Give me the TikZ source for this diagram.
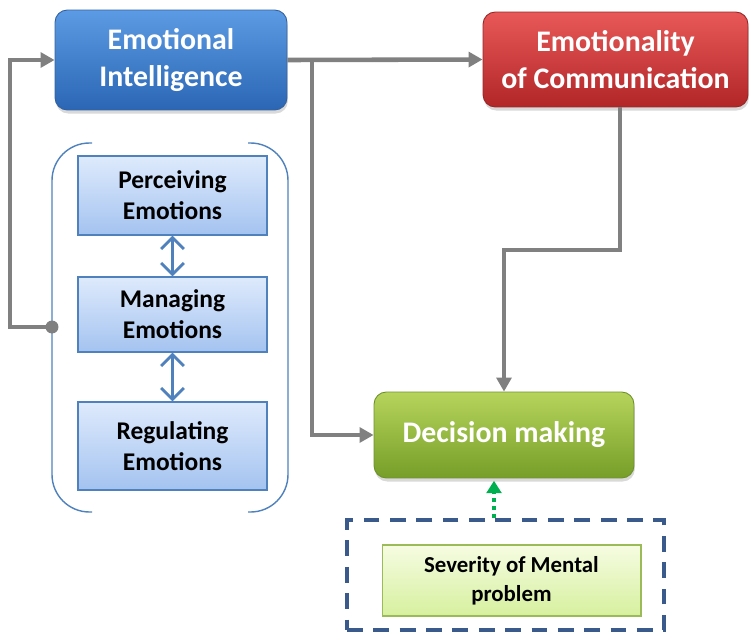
\documentclass[tikz,border=0pt]{standalone}
\usepackage{fontspec}
\setmainfont{Carlito}
\usetikzlibrary{arrows.meta,positioning,calc,shadows}

\definecolor{eiTop}{RGB}{92,155,228}
\definecolor{eiBot}{RGB}{42,102,180}
\definecolor{eiLine}{RGB}{52,98,160}
\definecolor{ecTop}{RGB}{232,88,88}
\definecolor{ecBot}{RGB}{178,38,40}
\definecolor{ecLine}{RGB}{150,40,40}
\definecolor{dmTop}{RGB}{182,212,92}
\definecolor{dmBot}{RGB}{118,158,40}
\definecolor{dmLine}{RGB}{110,145,45}
\definecolor{subTop}{RGB}{222,234,252}
\definecolor{subBot}{RGB}{164,195,240}
\definecolor{subLine}{RGB}{79,129,189}
\definecolor{sevTop}{RGB}{246,252,226}
\definecolor{sevBot}{RGB}{214,240,158}
\definecolor{sevLine}{RGB}{155,187,89}
\definecolor{connGray}{RGB}{128,128,128}
\definecolor{dashBlue}{RGB}{58,90,140}
\definecolor{dotGreen}{RGB}{0,176,80}

\begin{document}
\begin{tikzpicture}[
    x=0.02cm, y=-0.02cm,
    mainbox/.style={rounded corners=7pt, draw, line width=0.5pt, align=center, text=white,
        font=\fontsize{17}{21}\selectfont\bfseries,
        drop shadow={opacity=0.3, shadow xshift=0.5pt, shadow yshift=-2pt}},
    subbox/.style={draw=subLine, line width=0.6pt, top color=subTop, bottom color=subBot,
        minimum width=3.78cm, align=center, font=\fontsize{14.5}{17.8}\selectfont\bfseries},
    conn/.style={draw=connGray, line width=2.6pt, -{Triangle[length=8pt,width=8.5pt]}},
    dbl/.style={draw=subLine, line width=1.7pt,
        {Straight Barb[length=6.5pt,width=13pt,line width=1.7pt]}-{Straight Barb[length=6.5pt,width=13pt,line width=1.7pt]}},
    brace/.style={draw=subLine, line width=0.8pt, rounded corners=0.75cm}
]
\useasboundingbox (0,0) rectangle (751,632);

\node[mainbox, draw=eiLine, top color=eiTop, bottom color=eiBot, minimum width=4.64cm, minimum height=2cm] (ei) at (171,60) {Emotional\\Intelligence};
\node[mainbox, draw=ecLine, top color=ecTop, bottom color=ecBot, minimum width=5.3cm, minimum height=1.9cm] (ec) at (615.5,59.5) {Emotionality\\of Communication};
\node[mainbox, draw=dmLine, top color=dmTop, bottom color=dmBot, minimum width=5.2cm, minimum height=1.72cm] (dm) at (504,435) {Decision making};

\node[subbox, minimum height=1.58cm] (pe) at (172.5,195.5) {Perceiving\\Emotions};
\node[subbox, minimum height=1.5cm] (me) at (172.5,314.5) {Managing\\Emotions};
\node[subbox, minimum height=1.76cm] (re) at (172.5,446) {Regulating\\Emotions};

\draw[brace] (92,143) -| (52,512) -- (92,512);
\draw[brace] (248,143) -| (288,512) -- (248,512);

\draw[dbl] (pe) -- (me);
\draw[dbl] (me) -- (re);

\node[draw=dashBlue, line width=2.2pt, dash pattern=on 9pt off 6pt, minimum width=6.34cm, minimum height=2.2cm] (grp) at (505.5,575) {};
\node[draw=sevLine, line width=0.6pt, top color=sevTop, bottom color=sevBot, minimum width=5.18cm, minimum height=1.42cm,
      align=center, font=\fontsize{13}{16.5}\selectfont\bfseries] (sev) at (511.5,580.5) {Severity of Mental\\problem};

\node[circle, fill=connGray, inner sep=0pt, minimum size=0.26cm] (dot) at (52,327) {};
\coordinate (lp) at (10,327);
\coordinate (br) at (312,60);
\coordinate (jn) at (560,250);

\draw[conn] (dot.center) -- (lp) |- (ei);
\draw[conn] (ei.east) -- (ec.west);
\draw[conn] (br) |- (dm.west);
\draw[conn] ([xshift=0.09cm]ec.south) |- (jn) -| (dm.north);
\draw[draw=dotGreen, line width=2.3pt, dash pattern=on 2.3pt off 2.3pt, -{Triangle[length=7pt,width=9pt,line width=0pt]}]
    ([xshift=-0.2cm]dm.south |- grp.north) -- ([xshift=-0.2cm,yshift=-0.05cm]dm.south);
\end{tikzpicture}
\end{document}
